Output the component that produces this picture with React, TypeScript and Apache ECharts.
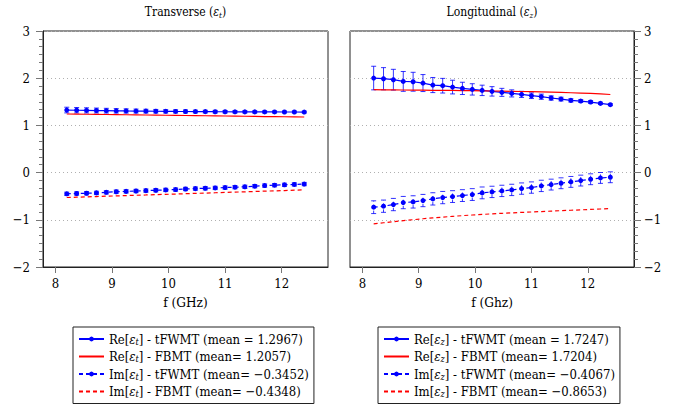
import React, { useEffect, useRef } from "react";
import * as echarts from "echarts";

// ---------- data ----------
const freq = [8.2, 8.375, 8.55, 8.725, 8.9, 9.075, 9.25, 9.425, 9.6, 9.775, 9.95, 10.125, 10.3, 10.475, 10.65, 10.825, 11.0, 11.175, 11.35, 11.525, 11.7, 11.875, 12.05, 12.225, 12.4];

// Transverse
const reT_tfwmt = [1.325, 1.321, 1.318, 1.315, 1.312, 1.309, 1.306, 1.304, 1.302, 1.3, 1.298, 1.296, 1.295, 1.293, 1.292, 1.29, 1.289, 1.288, 1.287, 1.286, 1.285, 1.285, 1.284, 1.284, 1.283];
const reT_err = [0.06, 0.058, 0.055, 0.052, 0.05, 0.047, 0.045, 0.042, 0.04, 0.038, 0.036, 0.034, 0.032, 0.03, 0.029, 0.028, 0.026, 0.025, 0.024, 0.023, 0.022, 0.021, 0.02, 0.02, 0.02];
const reT_fbmt = [1.242, 1.239, 1.236, 1.234, 1.231, 1.228, 1.226, 1.223, 1.22, 1.218, 1.215, 1.212, 1.21, 1.207, 1.204, 1.202, 1.199, 1.196, 1.194, 1.191, 1.188, 1.186, 1.183, 1.181, 1.178];
const imT_tfwmt = [-0.449, -0.443, -0.437, -0.43, -0.418, -0.405, -0.398, -0.39, -0.382, -0.374, -0.367, -0.36, -0.347, -0.339, -0.332, -0.325, -0.317, -0.309, -0.301, -0.288, -0.275, -0.267, -0.259, -0.251, -0.243];
const imT_err = [0.035, 0.035, 0.035, 0.035, 0.035, 0.035, 0.035, 0.035, 0.035, 0.035, 0.035, 0.035, 0.035, 0.035, 0.035, 0.035, 0.035, 0.035, 0.035, 0.035, 0.035, 0.035, 0.035, 0.035, 0.035];
const imT_fbmt = [-0.528, -0.521, -0.514, -0.507, -0.5, -0.494, -0.487, -0.48, -0.474, -0.467, -0.46, -0.454, -0.447, -0.44, -0.434, -0.427, -0.42, -0.413, -0.407, -0.4, -0.393, -0.387, -0.38, -0.373, -0.366];

// Longitudinal
const reZ_tfwmt = [2.003, 1.989, 1.968, 1.932, 1.925, 1.897, 1.855, 1.841, 1.812, 1.784, 1.763, 1.742, 1.721, 1.7, 1.678, 1.657, 1.629, 1.608, 1.58, 1.558, 1.53, 1.516, 1.495, 1.467, 1.439];
const reZ_err = [0.25, 0.235, 0.22, 0.21, 0.2, 0.18, 0.16, 0.155, 0.145, 0.13, 0.12, 0.11, 0.1, 0.085, 0.075, 0.065, 0.06, 0.055, 0.045, 0.04, 0.035, 0.03, 0.03, 0.025, 0.02];
const reZ_fbmt = [1.756, 1.754, 1.752, 1.75, 1.748, 1.746, 1.744, 1.742, 1.74, 1.737, 1.735, 1.732, 1.729, 1.726, 1.722, 1.718, 1.714, 1.709, 1.704, 1.698, 1.692, 1.685, 1.677, 1.668, 1.655];
const imZ_tfwmt = [-0.733, -0.712, -0.677, -0.635, -0.621, -0.592, -0.557, -0.529, -0.508, -0.487, -0.465, -0.43, -0.409, -0.388, -0.367, -0.339, -0.317, -0.282, -0.254, -0.226, -0.197, -0.169, -0.141, -0.113, -0.099];
const imZ_err = [0.135, 0.13, 0.13, 0.13, 0.13, 0.13, 0.13, 0.13, 0.125, 0.125, 0.125, 0.125, 0.12, 0.12, 0.12, 0.12, 0.12, 0.12, 0.115, 0.115, 0.115, 0.115, 0.115, 0.115, 0.115];
const imZ_fbmt = [-1.086, -1.062, -1.04, -1.018, -0.998, -0.978, -0.96, -0.943, -0.927, -0.912, -0.898, -0.886, -0.874, -0.863, -0.853, -0.843, -0.834, -0.825, -0.816, -0.807, -0.798, -0.789, -0.78, -0.771, -0.762];

const xTicks = [8, 9, 10, 11, 12];

// legend entries: [plain name, rich label]
const legendT = [
  ["Re[εt] - tFWMT (mean = 1.2967)", "Re[{it|ε}{sub|t}] - tFWMT (mean = 1.2967)"],
  ["Re[εt] - FBMT (mean= 1.2057)", "Re[{it|ε}{sub|t}] - FBMT (mean= 1.2057)"],
  ["Im[εt] - tFWMT (mean= −0.3452)", "Im[{it|ε}{sub|t}] - tFWMT (mean= −0.3452)"],
  ["Im[εt] - FBMT (mean= −0.4348)", "Im[{it|ε}{sub|t}] - FBMT (mean= −0.4348)"],
];
const legendZ = [
  ["Re[εz] - tFWMT (mean = 1.7247)", "Re[{it|ε}{sub|z}] - tFWMT (mean = 1.7247)"],
  ["Re[εz] - FBMT (mean= 1.7204)", "Re[{it|ε}{sub|z}] - FBMT (mean= 1.7204)"],
  ["Im[εz] - tFWMT (mean= −0.4067)", "Im[{it|ε}{sub|z}] - tFWMT (mean= −0.4067)"],
  ["Im[εz] - FBMT (mean= −0.8653)", "Im[{it|ε}{sub|z}] - FBMT (mean= −0.8653)"],
];

const FONT = "'DejaVu Serif Condensed', 'DejaVu Serif'";
const BLUE = "#0000ff";
const RED = "#ff0000";
const DASH = [4, 3];

const richStyles = (fs: number) => ({
  it: { fontStyle: "italic", fontFamily: FONT, fontSize: fs, color: "#000" },
  sub: { fontStyle: "italic", fontFamily: FONT, fontSize: Math.round(fs * 0.7), lineHeight: 8, verticalAlign: "bottom", color: "#000" },
});

const fmtNum = (v: number) => (v < 0 ? "\u2212" + Math.abs(v) : String(v));

const pairs = (ys: number[]) => freq.map((f, i) => [f, ys[i]]);
const errData = (ys: number[], es: number[]) => freq.map((f, i) => [f, ys[i] - es[i], ys[i] + es[i]]);

function errSeries(ys: number[], es: number[], gi: number, dashed: boolean) {
  return {
    type: "custom",
    xAxisIndex: gi,
    yAxisIndex: gi,
    z: 3,
    encode: { x: 0, y: [1, 2] },
    data: errData(ys, es),
    renderItem: (params: any, api: any) => {
      const x = api.value(0);
      const lo = api.coord([x, api.value(1)]);
      const hi = api.coord([x, api.value(2)]);
      const cap = 2.5;
      const st: any = { stroke: "rgba(0,0,255,0.8)", lineWidth: 1, fill: null };
      const stLine: any = { ...st, lineDash: dashed ? [3, 3] : null };
      return {
        type: "group",
        children: [
          { type: "line", shape: { x1: lo[0], y1: lo[1], x2: hi[0], y2: hi[1] }, style: stLine },
          { type: "line", shape: { x1: lo[0] - cap, y1: lo[1], x2: lo[0] + cap, y2: lo[1] }, style: st },
          { type: "line", shape: { x1: hi[0] - cap, y1: hi[1], x2: hi[0] + cap, y2: hi[1] }, style: st },
        ],
      };
    },
  };
}

function lineSeries(name: string, ys: number[], gi: number, color: string, dashed: boolean, marker: boolean) {
  return {
    type: "line",
    name,
    xAxisIndex: gi,
    yAxisIndex: gi,
    z: 4,
    data: pairs(ys),
    symbol: marker ? "circle" : "none",
    showSymbol: marker,
    symbolSize: 5,
    itemStyle: { color },
    lineStyle: { color, width: 1.2, type: dashed ? DASH : "solid" },
  };
}

function xAxis(gi: number, name: string) {
  return {
    type: "value",
    gridIndex: gi,
    min: 7.78,
    max: 12.82,
    name,
    nameLocation: "middle",
    nameGap: 20,
    nameTextStyle: { fontFamily: FONT, fontSize: 13.5, color: "#000" },
    axisLine: { onZero: false, lineStyle: { color: "#222", width: 1 } },
    axisTick: { show: true, customValues: xTicks, length: 6, lineStyle: { color: "#777" } },
    axisLabel: { customValues: xTicks, margin: 10, fontFamily: FONT, fontSize: 13, color: "#000", formatter: (v: number) => fmtNum(v) },
    splitLine: { show: false },
  };
}

function yAxis(gi: number, right: boolean) {
  return {
    type: "value",
    gridIndex: gi,
    position: right ? "right" : "left",
    min: -2,
    max: 3,
    interval: 1,
    axisLine: { show: true, lineStyle: { color: "#222", width: 1 } },
    axisTick: { show: true, length: 7, lineStyle: { color: "#777" } },
    minorTick: { show: true, splitNumber: 6, length: 4, lineStyle: { color: "#777" } },
    axisLabel: {
      margin: right ? 10 : 13,
      fontFamily: FONT,
      fontSize: 13,
      color: "#000",
      align: right ? "left" : "right",
      formatter: (v: number) => fmtNum(v),
    },
    splitLine: { show: true, lineStyle: { color: "#b0b0b0", type: [1, 3], width: 1 } },
  };
}

function legend(entries: string[][], left: number) {
  const map: Record<string, string> = {};
  entries.forEach((e) => (map[e[0]] = e[1]));
  return {
    orient: "vertical",
    left,
    top: 327,
    padding: [5, 5, 5, 5],
    itemWidth: 25,
    itemHeight: 6,
    itemGap: 3.5,
    borderColor: "#222",
    borderWidth: 1,
    data: entries.map((e, i) => (i % 2 === 1 ? { name: e[0], itemStyle: { opacity: 0 } } : { name: e[0] })),
    formatter: (n: string) => map[n] || n,
    textStyle: { fontFamily: FONT, fontSize: 13, color: "#000", lineHeight: 14, rich: richStyles(13) },
  };
}

function titleText(x: number, rich: string) {
  return {
    type: "text",
    x,
    y: 12,
    style: {
      text: rich,
      fontFamily: FONT,
      fontSize: 12,
      fill: "#000",
      align: "center",
      verticalAlign: "middle",
      lineHeight: 15,
      rich: richStyles(12),
    },
  };
}

export default function App() {
  const ref = useRef<HTMLDivElement>(null);
  useEffect(() => {
    if (!ref.current) return;
    const chart = echarts.init(ref.current, null, { renderer: "svg" });
    const option: any = {
      animation: false,
      backgroundColor: "#fff",
      textStyle: { fontFamily: FONT },
      grid: [
        { left: 43, top: 31, width: 285, height: 236, show: true, borderColor: "#222", borderWidth: 1 },
        { left: 350, top: 31, width: 284, height: 236, show: true, borderColor: "#222", borderWidth: 1 },
      ],
      xAxis: [xAxis(0, "f (GHz)"), xAxis(1, "f (Ghz)")],
      yAxis: [yAxis(0, false), yAxis(1, true)],
      legend: [legend(legendT, 73), legend(legendZ, 378)],
      graphic: [
        titleText(185.5, "Transverse ({it|ε}{sub|t})"),
        titleText(492, "Longitudinal ({it|ε}{sub|z})"),
      ],
      series: [
        errSeries(reT_tfwmt, reT_err, 0, false),
        errSeries(imT_tfwmt, imT_err, 0, true),
        lineSeries(legendT[0][0], reT_tfwmt, 0, BLUE, false, true),
        lineSeries(legendT[1][0], reT_fbmt, 0, RED, false, false),
        lineSeries(legendT[2][0], imT_tfwmt, 0, BLUE, true, true),
        lineSeries(legendT[3][0], imT_fbmt, 0, RED, true, false),
        errSeries(reZ_tfwmt, reZ_err, 1, false),
        errSeries(imZ_tfwmt, imZ_err, 1, true),
        lineSeries(legendZ[0][0], reZ_tfwmt, 1, BLUE, false, true),
        lineSeries(legendZ[1][0], reZ_fbmt, 1, RED, false, false),
        lineSeries(legendZ[2][0], imZ_tfwmt, 1, BLUE, true, true),
        lineSeries(legendZ[3][0], imZ_fbmt, 1, RED, true, false),
      ],
    };
    chart.setOption(option);
    return () => chart.dispose();
  }, []);
  return <div ref={ref} style={{ position: "absolute", left: 0, top: 0, width: 688, height: 409 }} />;
}
